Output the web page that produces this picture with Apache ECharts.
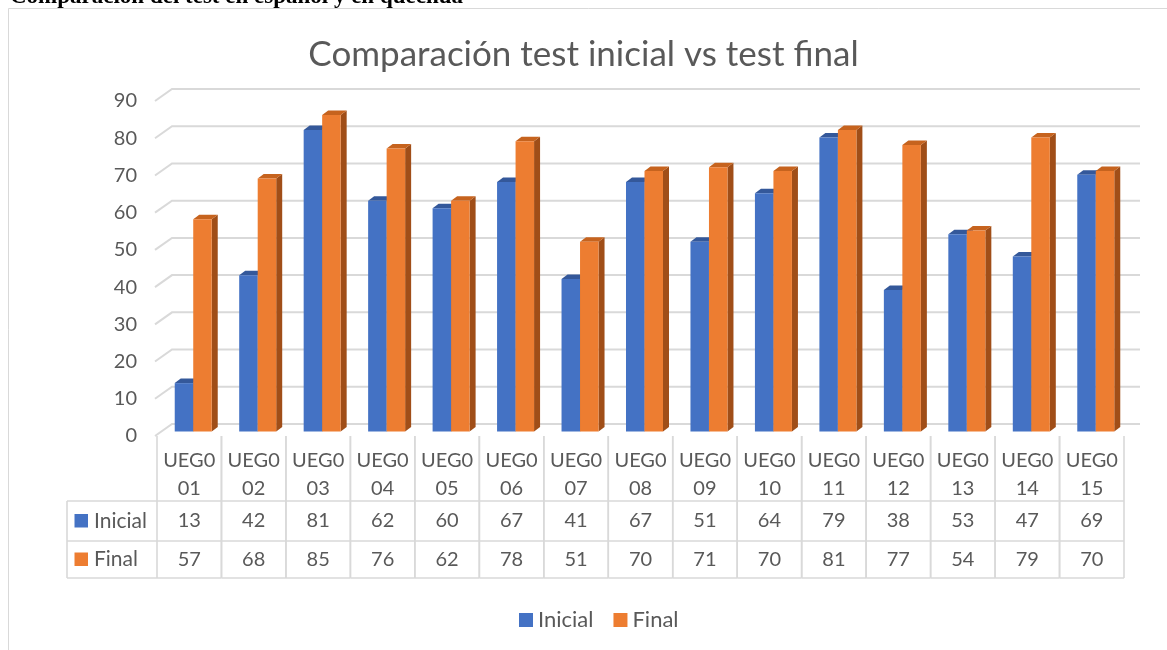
<!DOCTYPE html>
<html>
<head>
<meta charset="utf-8">
<script src="https://cdn.jsdelivr.net/npm/echarts@6/dist/echarts.min.js"></script>
<style>
html,body{margin:0;padding:0;background:#fff;}
#chart{width:1167px;height:650px;}
</style>
</head>
<body>
<div id="chart"></div>
<script>
// ---- data ----
const categories = ['UEG001','UEG002','UEG003','UEG004','UEG005','UEG006','UEG007','UEG008','UEG009','UEG010','UEG011','UEG012','UEG013','UEG014','UEG015'];
const inicial = [13,42,81,62,60,67,41,67,51,64,79,38,53,47,69];
const finalv  = [57,68,85,76,62,78,51,70,71,70,81,77,54,79,70];
const yTicks  = [0,10,20,30,40,50,60,70,80,90];
const seriesNames = ['Inicial','Final'];
const chartTitle = 'Comparación test inicial vs test final';
const pageHeading = 'Comparación del test en español y en quechua';

// ---- style constants ----
const FONT = 'Lato';
const TXT = '#595959';
const GRID = '#d9d9d9';
const COLORS = {
  Inicial: {front:'#4472c4', top:'#34589a', side:'#2c4d89'},
  Final:   {front:'#ed7d31', top:'#c6631e', side:'#a04e18'}
};
const BAR_SHIFT = [4, -4.5];   // bar plane relative to front plane
const BAR_DEPTH = [6, -4.5];   // 3D depth of each bar
const WALL = [15, -12];        // back wall relative to front plane

const chart = echarts.init(document.getElementById('chart'), null, {renderer:'canvas'});

function barRender(name){
  return function(params, api){
    const i = api.value(0), v = api.value(1);
    const c0 = api.coord([i, 0]);
    const c1 = api.coord([i, v]);
    const band = api.size([1, 0])[0];
    const w = band * 0.287;
    const cx = c0[0] + BAR_SHIFT[0];
    const xl = name === 'Inicial' ? cx - w : cx;
    const yt = c1[1] + BAR_SHIFT[1];
    const yb = c0[1] + BAR_SHIFT[1];
    const col = COLORS[name];
    const dx = BAR_DEPTH[0], dy = BAR_DEPTH[1];
    return {type:'group', children:[
      {type:'polygon', shape:{points:[[xl+w,yt],[xl+w+dx,yt+dy],[xl+w+dx,yb+dy],[xl+w,yb]]}, style:{fill:col.side}},
      {type:'polygon', shape:{points:[[xl,yt],[xl+w,yt],[xl+w+dx,yt+dy],[xl+dx,yt+dy]]}, style:{fill:col.top}},
      {type:'rect', shape:{x:xl, y:yt, width:w, height:yb-yt}, style:{fill:col.front}}
    ]};
  };
}

function wallRender(params, api){
  const v = api.value(0);
  const cs = params.coordSys;
  const y = api.coord([0, v])[1];
  return {type:'polyline', shape:{points:[[cs.x-2, y],[cs.x+WALL[0], y+WALL[1]],[cs.x+cs.width+WALL[0]+1, y+WALL[1]]]},
          style:{stroke:GRID, lineWidth:2, fill:null}};
}

function tableRender(params, api){
  const i = api.value(0);
  const c0 = api.coord([i, 0]);
  const band = api.size([1, 0])[0];
  const x0 = c0[0] - band/2, x1 = c0[0] + band/2;
  const y0 = c0[1];
  const r1 = y0 + 65, r2 = y0 + 105, r3 = y0 + 142;
  const ls = {stroke:GRID, lineWidth:1.6};
  const ts = (t, y) => ({type:'text', style:{text:t, x:c0[0], y:y, textAlign:'center', textVerticalAlign:'middle', fill:TXT, font:'20px ' + FONT}});
  const cat = categories[i];
  const ch = [
    {type:'line', shape:{x1:x0,y1:y0,x2:x0,y2:r3}, style:ls},
    {type:'line', shape:{x1:x1,y1:y0,x2:x1,y2:r3}, style:ls},
    {type:'line', shape:{x1:x0,y1:r1,x2:x1,y2:r1}, style:ls},
    {type:'line', shape:{x1:x0,y1:r2,x2:x1,y2:r2}, style:ls},
    {type:'line', shape:{x1:x0,y1:r3,x2:x1,y2:r3}, style:ls},
    ts(cat.slice(0,4), y0 + 25),
    ts(cat.slice(4), y0 + 53),
    ts(String(api.value(1)), (r1 + r2)/2),
    ts(String(api.value(2)), (r2 + r3)/2)
  ];
  if (i === 0) {
    const hx = x0 - 90;
    ch.push(
      {type:'line', shape:{x1:hx,y1:r1,x2:x0,y2:r1}, style:ls},
      {type:'line', shape:{x1:hx,y1:r2,x2:x0,y2:r2}, style:ls},
      {type:'line', shape:{x1:hx,y1:r3,x2:x0,y2:r3}, style:ls},
      {type:'line', shape:{x1:hx,y1:r1,x2:hx,y2:r3}, style:ls}
    );
    [[seriesNames[0], (r1+r2)/2], [seriesNames[1], (r2+r3)/2]].forEach(([n, yc]) => {
      ch.push({type:'rect', shape:{x:hx+7.5, y:yc-7, width:13.5, height:13.5}, style:{fill:COLORS[n].front}});
      ch.push({type:'text', style:{text:n, x:hx+27, y:yc, textAlign:'left', textVerticalAlign:'middle', fill:TXT, font:'21px ' + FONT}});
    });
  }
  return {type:'group', children:ch};
}

const option = {
  backgroundColor:'#fff',
  animation:false,
  graphic:[
    {type:'rect', shape:{x:8.5, y:8.5, width:1200, height:700}, style:{fill:null, stroke:GRID, lineWidth:1}, z:-10},
    {type:'text', style:{text:pageHeading, x:10, y:9, textVerticalAlign:'bottom', font:'bold 23px "Liberation Serif"', fill:'#000'}, z:-5}
  ],
  title:{
    text:chartTitle, left:'center', top:32,
    textStyle:{fontFamily:FONT, fontSize:35, fontWeight:'normal', color:TXT}
  },
  legend:{
    data:seriesNames, top:604, left:514, icon:'rect', itemWidth:14, itemHeight:14, itemGap:20,
    textStyle:{fontFamily:FONT, fontSize:22, color:TXT}
  },
  grid:{left:157, right:43, top:101, bottom:214},
  xAxis:{type:'category', data:categories, axisLine:{show:false}, axisTick:{show:false}, axisLabel:{show:false}, splitLine:{show:false}},
  yAxis:{type:'value', min:0, max:90, interval:10, axisLine:{show:false}, axisTick:{show:false}, splitLine:{show:false},
    axisLabel:{fontFamily:FONT, fontSize:20, color:TXT, margin:20}},
  series:[
    {type:'custom', name:'wall', renderItem:wallRender, data:yTicks.map(v => [v]), encode:{y:0}, silent:true, z:1},
    {type:'custom', name:seriesNames[0], renderItem:barRender('Inicial'), data:inicial.map((v,i)=>[i,v]), encode:{x:0,y:1}, itemStyle:{color:COLORS.Inicial.front}, z:2},
    {type:'custom', name:seriesNames[1], renderItem:barRender('Final'), data:finalv.map((v,i)=>[i,v]), encode:{x:0,y:1}, itemStyle:{color:COLORS.Final.front}, z:3},
    {type:'custom', name:'table', renderItem:tableRender, data:categories.map((c,i)=>[i, inicial[i], finalv[i]]), encode:{x:0}, silent:true, z:4}
  ]
};
chart.setOption(option);
</script>
</body>
</html>
